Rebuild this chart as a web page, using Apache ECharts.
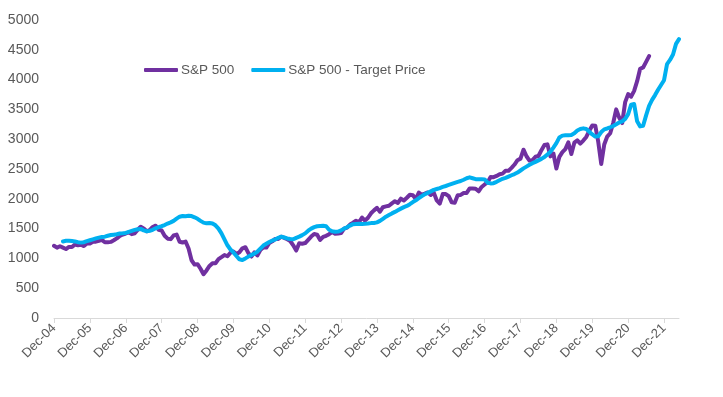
<!DOCTYPE html>
<html>
<head>
<meta charset="utf-8">
<script src="https://cdn.jsdelivr.net/npm/echarts@6/dist/echarts.min.js"></script>
<style>
html,body{margin:0;padding:0;background:#fff;}
#chart{width:723px;height:397px;}
</style>
</head>
<body>
<div id="chart"></div>
<script>
// Monthly categories Dec-04 .. May-22 (210 months)
const monthNames = ['Jan','Feb','Mar','Apr','May','Jun','Jul','Aug','Sep','Oct','Nov','Dec'];
const categories = [];
for (let i = 0; i < 210; i++) {
  const mi = (11 + i) % 12;
  const yr = 2004 + Math.floor((11 + i) / 12);
  categories.push(monthNames[mi] + '-' + String(yr % 100).padStart(2, '0'));
}

const yTicks = [0, 500, 1000, 1500, 2000, 2500, 3000, 3500, 4000, 4500, 5000];

// S&P 500 month-end level, Dec-04 .. Jul-21
const sp500 = [
  1212,
  1181,1204,1181,1157,1192,1191,1234,1220,1229,1207,1249,1248,
  1280,1281,1295,1311,1270,1270,1277,1304,1336,1378,1401,1418,
  1438,1407,1421,1482,1531,1503,1455,1474,1527,1549,1481,1468,
  1379,1331,1323,1386,1400,1280,1267,1283,1166,969,896,903,
  826,735,798,873,919,919,987,1021,1057,1036,1096,1115,
  1074,1104,1169,1187,1089,1031,1102,1049,1141,1183,1181,1258,
  1286,1327,1326,1364,1345,1321,1292,1219,1131,1253,1247,1258,
  1312,1366,1408,1398,1310,1362,1379,1407,1441,1412,1416,1426,
  1498,1515,1569,1598,1631,1606,1686,1633,1682,1757,1806,1848,
  1783,1859,1872,1884,1924,1960,1931,2003,1972,2018,2068,2059,
  1995,2105,2068,2086,2107,2063,2104,1972,1920,2079,2080,2044,
  1940,1932,2060,2065,2097,2099,2174,2171,2168,2126,2199,2239,
  2279,2364,2363,2384,2412,2423,2470,2472,2519,2575,2648,2674,
  2824,2714,2641,2648,2705,2718,2816,2902,2914,2712,2760,2507,
  2704,2784,2834,2946,2752,2942,2980,2926,2977,3038,3141,3231,
  3226,2954,2585,2912,3044,3100,3271,3500,3363,3270,3622,3756,
  3714,3811,3973,4181,4204,4298,4395
];

// S&P 500 - Target Price, Mar-05 .. May-22 (first three months empty)
const targetPrice = [
  null,null,null,
  1285,1295,1297,1292,1285,1272,1265,1272,1290,
  1305,1320,1335,1348,1358,1365,1380,1392,1398,1405,1418,1422,
  1428,1445,1462,1478,1490,1495,1470,1455,1462,1480,1505,1525,
  1540,1560,1585,1605,1630,1668,1700,1712,1708,1715,1710,1690,
  1665,1630,1600,1588,1595,1585,1555,1500,1420,1320,1220,1150,
  1100,1040,985,972,1000,1030,1057,1080,1112,1165,1215,1245,
  1275,1300,1318,1345,1365,1350,1335,1325,1320,1345,1365,1390,
  1420,1465,1500,1525,1540,1545,1548,1540,1480,1455,1448,1450,
  1470,1500,1522,1550,1575,1578,1580,1577,1580,1585,1592,1595,
  1605,1630,1665,1700,1728,1755,1780,1808,1835,1860,1880,1910,
  1945,1975,2010,2045,2075,2100,2125,2150,2165,2180,2200,2215,
  2232,2250,2268,2285,2298,2320,2345,2360,2345,2330,2328,2330,
  2325,2270,2258,2262,2285,2310,2335,2350,2372,2395,2415,2440,
  2475,2510,2540,2570,2598,2620,2645,2670,2700,2745,2790,2860,
  2935,3030,3060,3065,3068,3072,3100,3145,3170,3182,3170,3125,
  3080,3045,3050,3120,3165,3180,3200,3222,3250,3280,3300,3340,
  3420,3580,3590,3300,3215,3225,3400,3560,3660,3740,3830,3910,
  3990,4260,4330,4420,4600,4680
];

const FONT = "'Liberation Sans', Arial, sans-serif";
const chart = echarts.init(document.getElementById('chart'), null, {renderer: 'canvas'});
chart.setOption({
  animation: false,
  backgroundColor: '#ffffff',
  grid: {left: 54, right: 44, top: 20, bottom: 79, containLabel: false},
  legend: {
    left: 139, top: 58,
    itemWidth: 34, itemHeight: 4, itemGap: 17,
    icon: 'roundRect',
    textStyle: {color: '#595959', fontSize: 13.5, fontFamily: FONT, padding: [0, 0, 0, -2]},
    data: ['S&P 500', 'S&P 500 - Target Price']
  },
  xAxis: {
    type: 'category',
    data: categories,
    boundaryGap: false,
    axisLine: {show: true, lineStyle: {color: '#d9d9d9', width: 1}},
    axisTick: {show: true, interval: 11, length: 5, lineStyle: {color: '#d9d9d9'}},
    axisLabel: {interval: 11, rotate: 45, color: '#595959', fontSize: 13, fontFamily: FONT, margin: 8},
    splitLine: {show: false}
  },
  yAxis: {
    type: 'value',
    min: yTicks[0], max: yTicks[yTicks.length - 1], interval: 500,
    axisLine: {show: false},
    axisTick: {show: false},
    axisLabel: {color: '#595959', fontSize: 14, fontFamily: FONT, margin: 15,
      formatter: function (v) { return String(v); }},
    splitLine: {show: false}
  },
  series: [
    {
      name: 'S&P 500', type: 'line', data: sp500,
      showSymbol: false, symbol: 'none',
      itemStyle: {color: '#7030A0'},
      lineStyle: {color: '#7030A0', width: 4, join: 'round', cap: 'round'},
      z: 2
    },
    {
      name: 'S&P 500 - Target Price', type: 'line', data: targetPrice,
      showSymbol: false, symbol: 'none', connectNulls: false,
      itemStyle: {color: '#00B0F0'},
      lineStyle: {color: '#00B0F0', width: 4, join: 'round', cap: 'round'},
      z: 3
    }
  ]
});
</script>
</body>
</html>
